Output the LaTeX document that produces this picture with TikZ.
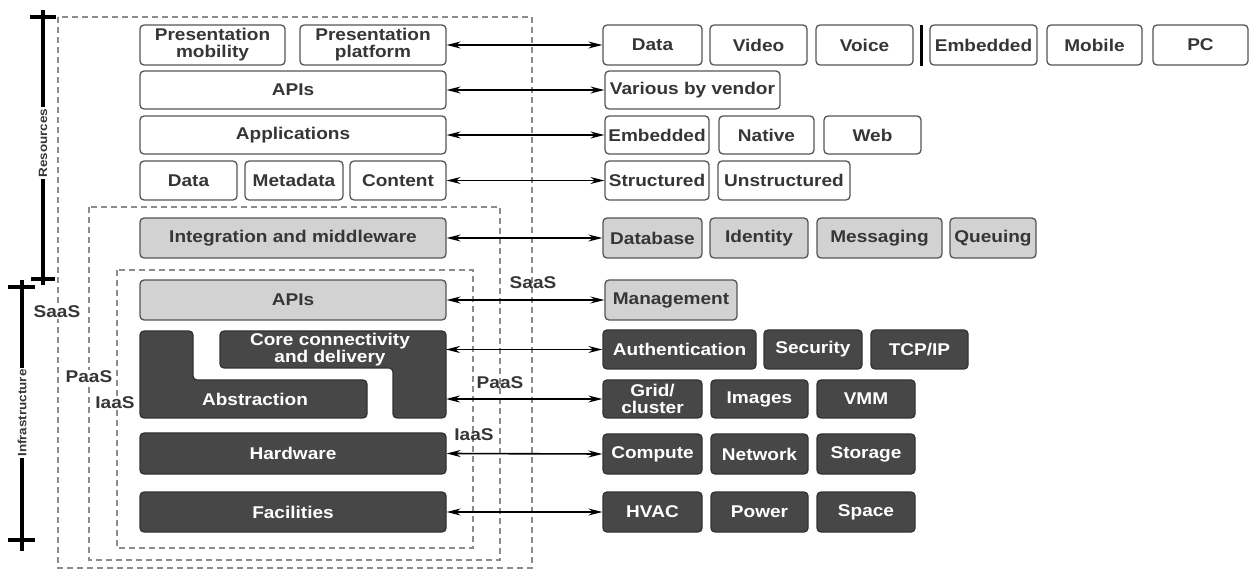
\documentclass[tikz,border=0pt]{standalone}
\usepackage{fontspec}
\setmainfont{Liberation Sans}[FakeStretch=1.12]
\usetikzlibrary{arrows.meta}
\definecolor{bord}{HTML}{555555}
\definecolor{lgray}{HTML}{D2D2D2}
\definecolor{dgray}{HTML}{474747}
\definecolor{txt}{HTML}{363636}
\definecolor{dashc}{HTML}{8C8C8C}
\newcommand\bx[7]{\node[#1, minimum width={#5-#3}, minimum height={#6-#4}] (#2) at ({(#3+#5)/2},{(#4+#6)/2}) {#7};}
\begin{document}
\begin{tikzpicture}[x=1pt,y=-1pt,
 base/.style={rounded corners=4pt, line width=1.3pt, inner sep=0pt, align=center, font=\fontsize{17}{17}\selectfont\bfseries},
 wbox/.style={base, draw=bord, fill=white, text=txt},
 gbox/.style={base, draw=bord, fill=lgray, text=txt},
 dbox/.style={base, draw=black!80, fill=dgray, text=white},
 dtxt/.style={align=center, inner sep=0pt, text=white, font=\fontsize{17}{17}\selectfont\bfseries},
 arr/.style={{Stealth[length=14pt,width=7pt]}-{Stealth[length=14pt,width=7pt]}, line width=1.6pt, black},
 frame/.style={draw=dashc, line width=1.4pt, dash pattern=on 6pt off 4pt},
 tag/.style={font=\fontsize{17}{17}\selectfont\bfseries, text=txt, inner sep=1pt},
 wtag/.style={tag, fill=white},
 axis/.style={line width=3.4pt, black},
 axlab/.style={font=\fontsize{12}{12}\selectfont\bfseries, rotate=90, fill=white, inner sep=1.5pt, text=txt}
]
\useasboundingbox (0,0) rectangle (1254,569);
% dashed frames
\draw[frame] (58,17) rectangle (532,568);
\draw[frame] (89,207) rectangle (500,560);
\draw[frame] (117,270) rectangle (473,548);
% axes
\draw[axis] (43,10) -- (43,285);
\draw[axis] (30,17) -- (56,17);
\draw[axis] (31,279) -- (55,279);
\draw[axis] (22,280) -- (22,551);
\draw[axis] (8,287) -- (35,287);
\draw[axis] (8,540) -- (35,540);
\node[axlab] (res) at (43,143) {Resources};
\node[axlab] (inf) at (22,413) {Infrastructure};
% left stack
\bx{wbox}{pm}{140}{25}{285}{65}{Presentation\\mobility}
\bx{wbox}{pp}{300}{25}{446}{65}{Presentation\\platform}
\bx{wbox}{apiA}{140}{71}{446}{109}{APIs}
\bx{wbox}{apps}{140}{116}{446}{154}{Applications}
\bx{wbox}{ldata}{140}{161}{237}{200}{Data}
\bx{wbox}{meta}{245}{161}{343}{200}{Metadata}
\bx{wbox}{cont}{350}{161}{446}{200}{Content}
\bx{gbox}{integ}{140}{218}{446}{258}{Integration and middleware}
\bx{gbox}{apiB}{140}{280}{446}{320}{APIs}
\filldraw[fill=dgray, draw=black!80, line width=1.3pt, rounded corners=4pt]
  (140,331) -- (193,331) -- (193,380) -- (367,380) -- (367,418) -- (140,418) -- cycle;
\filldraw[fill=dgray, draw=black!80, line width=1.3pt, rounded corners=4pt]
  (220,331) -- (446,331) -- (446,418) -- (393,418) -- (393,368) -- (220,368) -- cycle;
\node[dtxt] (abst) at (255,399) {Abstraction};
\node[dtxt] (coret) at (330,350) {Core connectivity\\and delivery};
\coordinate (coreE) at (446,349.5);
\coordinate (absE) at (446,399);
\bx{dbox}{hw}{140}{433}{446}{474}{Hardware}
\bx{dbox}{fac}{140}{492}{446}{532}{Facilities}
% right side
\bx{wbox}{rdata}{603}{25}{702}{65}{Data}
\bx{wbox}{video}{710}{25}{807}{65}{Video}
\bx{wbox}{voice}{816}{25}{913}{65}{Voice}
\draw[line width=3pt] (921,25) -- (921,66);
\bx{wbox}{emb}{930}{25}{1037}{65}{Embedded}
\bx{wbox}{mob}{1047}{25}{1142}{65}{Mobile}
\bx{wbox}{pc}{1153}{25}{1248}{65}{PC}
\bx{wbox}{vend}{605}{71}{780}{109}{Various by vendor}
\bx{wbox}{embB}{605}{116}{709}{154}{Embedded}
\bx{wbox}{native}{719}{116}{814}{154}{Native}
\bx{wbox}{web}{824}{116}{921}{154}{Web}
\bx{wbox}{struc}{605}{161}{709}{200}{Structured}
\bx{wbox}{unstruc}{718}{161}{850}{200}{Unstructured}
\bx{gbox}{db}{603}{218}{702}{258}{Database}
\bx{gbox}{ident}{710}{218}{808}{258}{Identity}
\bx{gbox}{msg}{817}{218}{942}{258}{Messaging}
\bx{gbox}{queue}{950}{218}{1036}{258}{Queuing}
\bx{gbox}{mgmt}{605}{280}{737}{320}{Management}
\bx{dbox}{auth}{603}{330}{756}{369}{Authentication}
\bx{dbox}{sec}{764}{330}{862}{369}{Security}
\bx{dbox}{tcp}{871}{330}{968}{369}{TCP/IP}
\bx{dbox}{grid}{603}{380}{702}{418}{Grid/\\cluster}
\bx{dbox}{img}{711}{380}{808}{418}{Images}
\bx{dbox}{vmm}{817}{380}{915}{418}{VMM}
\bx{dbox}{comp}{603}{434}{702}{474}{Compute}
\bx{dbox}{net}{711}{434}{808}{474}{Network}
\bx{dbox}{stor}{817}{434}{915}{474}{Storage}
\bx{dbox}{hvac}{603}{492}{702}{532}{HVAC}
\bx{dbox}{pow}{711}{492}{808}{532}{Power}
\bx{dbox}{space}{817}{492}{915}{532}{Space}
% arrows
\draw[arr] (pp.east) -- (rdata.west);
\draw[arr] (apiA.east) -- (vend.west);
\draw[arr] (apps.east) -- (embB.west);
\draw[arr] (cont.east) -- (struc.west);
\draw[arr] (integ.east) -- (db.west);
\draw[arr] (apiB.east) -- (mgmt.west);
\draw[arr] (coreE) -- (auth.west);
\draw[arr] (absE) -- (grid.west);
\draw[arr] (hw.east) -- (comp.west);
\draw[arr] (fac.east) -- (hvac.west);
% tags
\node[tag] (saasR) at (533,283) {SaaS};
\node[tag] (paasR) at (500,383) {PaaS};
\node[tag] (iaasR) at (474,435) {IaaS};
\node[wtag] (saasL) at (57,312) {SaaS};
\node[wtag] (paasL) at (89,377) {PaaS};
\node[wtag] (iaasL) at (115,403) {IaaS};
\end{tikzpicture}
\end{document}
